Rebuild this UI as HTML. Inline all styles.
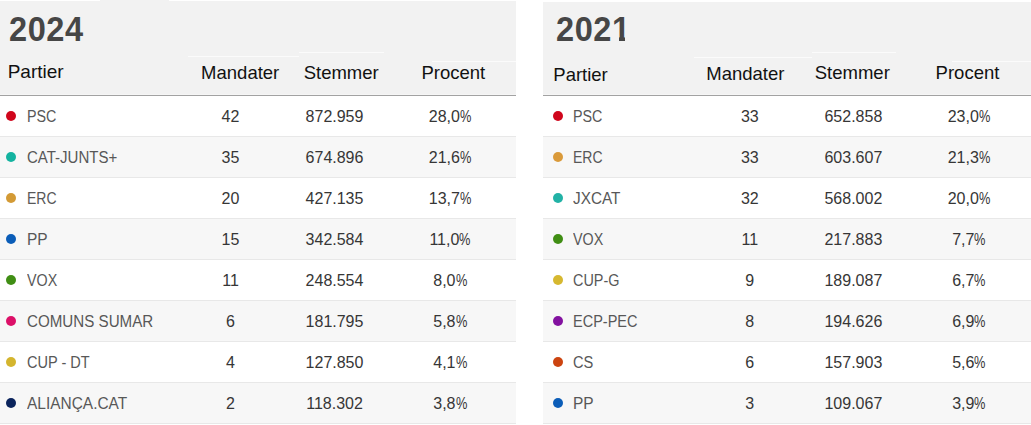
<!DOCTYPE html>
<html><head><meta charset="utf-8"><title>Valg 2024 / 2021</title>
<style>
html,body{margin:0;padding:0;background:#fff;}
body{width:1031px;height:425px;position:relative;overflow:hidden;font-family:"Liberation Sans",Arial,sans-serif;}
.hd{position:absolute;top:1px;height:94px;background:#f2f2f2;}
.hl{position:absolute;top:95px;height:1px;background:#a2a2a2;}
.row{position:absolute;height:40px;}
.sep{position:absolute;height:1px;background:#e8e8e8;}
.tit{position:absolute;font-size:35px;line-height:35px;font-weight:bold;color:#464646;letter-spacing:0.6px;transform:scaleX(.93);transform-origin:0 0;white-space:nowrap;}
.hdt{position:absolute;font-size:18.5px;line-height:18.5px;color:#111;white-space:nowrap;}
.td{position:absolute;font-size:16px;line-height:16px;color:#363636;white-space:nowrap;}
.nm{color:#585858;transform-origin:0 0;}
.c{text-align:center;}
.pc{display:inline-block;transform:scaleX(.8);transform-origin:0 0;margin-right:-2.8px;}
.seam{position:absolute;height:1px;background:#fbfbfb;}
.mask{position:absolute;top:37px;height:4px;width:7px;background:#f2f2f2;}
.dot{position:absolute;width:10px;height:10px;border-radius:50%;}
</style></head><body>
<div class="hd" style="left:0px;width:516px;top:1px;height:94px"></div>
<div class="hl" style="left:0px;width:516px"></div>
<div class="seam" style="left:0px;width:516px;top:94px;background:#f6f6f6"></div>
<div class="row" style="left:0px;width:516px;top:96px;background:#fff"></div>
<div class="sep" style="left:0px;width:516px;top:136px"></div>
<div class="row" style="left:0px;width:516px;top:137px;background:#f7f7f7"></div>
<div class="sep" style="left:0px;width:516px;top:177px"></div>
<div class="row" style="left:0px;width:516px;top:178px;background:#fff"></div>
<div class="sep" style="left:0px;width:516px;top:218px"></div>
<div class="row" style="left:0px;width:516px;top:219px;background:#f7f7f7"></div>
<div class="sep" style="left:0px;width:516px;top:259px"></div>
<div class="row" style="left:0px;width:516px;top:260px;background:#fff"></div>
<div class="sep" style="left:0px;width:516px;top:300px"></div>
<div class="row" style="left:0px;width:516px;top:301px;background:#f7f7f7"></div>
<div class="sep" style="left:0px;width:516px;top:341px"></div>
<div class="row" style="left:0px;width:516px;top:342px;background:#fff"></div>
<div class="sep" style="left:0px;width:516px;top:382px"></div>
<div class="row" style="left:0px;width:516px;top:383px;background:#f7f7f7"></div>
<div class="sep" style="left:0px;width:516px;top:423px"></div>
<div class="tit" style="left:8.6px;top:11.37px">2024</div>
<div class="hdt" style="left:7.65px;top:61.62px;font-size:19px;line-height:19px">Partier</div>
<div class="hdt c" style="left:180.2px;width:120px;top:64.04px">Mandater</div>
<div class="hdt c" style="left:281.2px;width:120px;top:64.04px">Stemmer</div>
<div class="hdt c" style="left:393.3px;width:120px;top:64.04px">Procent</div>
<div class="dot" style="left:6px;top:111px;background:#d0061c"></div>
<div class="td nm" style="left:26.5px;top:109.46px;transform:scaleX(0.895)">PSC</div>
<div class="td c" style="left:180.5px;width:100px;top:109.46px">42</div>
<div class="td c" style="left:284.5px;width:100px;top:109.46px">872.959</div>
<div class="td c" style="left:400.1px;width:100px;top:109.46px">28,0<span class="pc">%</span></div>
<div class="dot" style="left:6px;top:152px;background:#14b3a0"></div>
<div class="td nm" style="left:26.5px;top:150.46px;transform:scaleX(0.939)">CAT-JUNTS+</div>
<div class="td c" style="left:180.5px;width:100px;top:150.46px">35</div>
<div class="td c" style="left:284.5px;width:100px;top:150.46px">674.896</div>
<div class="td c" style="left:400.1px;width:100px;top:150.46px">21,6<span class="pc">%</span></div>
<div class="dot" style="left:6px;top:193px;background:#d39a35"></div>
<div class="td nm" style="left:26.5px;top:191.46px;transform:scaleX(0.875)">ERC</div>
<div class="td c" style="left:180.5px;width:100px;top:191.46px">20</div>
<div class="td c" style="left:284.5px;width:100px;top:191.46px">427.135</div>
<div class="td c" style="left:400.1px;width:100px;top:191.46px">13,7<span class="pc">%</span></div>
<div class="dot" style="left:6px;top:234px;background:#0b5db8"></div>
<div class="td nm" style="left:26.5px;top:232.46px;transform:scaleX(0.968)">PP</div>
<div class="td c" style="left:180.5px;width:100px;top:232.46px">15</div>
<div class="td c" style="left:284.5px;width:100px;top:232.46px">342.584</div>
<div class="td c" style="left:400.1px;width:100px;top:232.46px">11,0<span class="pc">%</span></div>
<div class="dot" style="left:6px;top:275px;background:#408e14"></div>
<div class="td nm" style="left:26.5px;top:273.46px;transform:scaleX(0.893)">VOX</div>
<div class="td c" style="left:180.5px;width:100px;top:273.46px">11</div>
<div class="td c" style="left:284.5px;width:100px;top:273.46px">248.554</div>
<div class="td c" style="left:400.1px;width:100px;top:273.46px">8,0<span class="pc">%</span></div>
<div class="dot" style="left:6px;top:316px;background:#dc1068"></div>
<div class="td nm" style="left:26.5px;top:314.46px;transform:scaleX(0.947)">COMUNS SUMAR</div>
<div class="td c" style="left:180.5px;width:100px;top:314.46px">6</div>
<div class="td c" style="left:284.5px;width:100px;top:314.46px">181.795</div>
<div class="td c" style="left:400.1px;width:100px;top:314.46px">5,8<span class="pc">%</span></div>
<div class="dot" style="left:6px;top:357px;background:#d4b52e"></div>
<div class="td nm" style="left:26.5px;top:355.46px;transform:scaleX(0.909)">CUP - DT</div>
<div class="td c" style="left:180.5px;width:100px;top:355.46px">4</div>
<div class="td c" style="left:284.5px;width:100px;top:355.46px">127.850</div>
<div class="td c" style="left:400.1px;width:100px;top:355.46px">4,1<span class="pc">%</span></div>
<div class="dot" style="left:6px;top:398px;background:#0b245c"></div>
<div class="td nm" style="left:26.5px;top:396.46px;transform:scaleX(0.966)">ALIANÇA.CAT</div>
<div class="td c" style="left:180.5px;width:100px;top:396.46px">2</div>
<div class="td c" style="left:284.5px;width:100px;top:396.46px">118.302</div>
<div class="td c" style="left:400.1px;width:100px;top:396.46px">3,8<span class="pc">%</span></div>
<div class="hd" style="left:543px;width:488px;top:2px;height:93px"></div>
<div class="hl" style="left:543px;width:488px"></div>
<div class="seam" style="left:543px;width:488px;top:94px;background:#f6f6f6"></div>
<div class="row" style="left:543px;width:488px;top:96px;background:#fff"></div>
<div class="sep" style="left:543px;width:488px;top:136px"></div>
<div class="row" style="left:543px;width:488px;top:137px;background:#f7f7f7"></div>
<div class="sep" style="left:543px;width:488px;top:177px"></div>
<div class="row" style="left:543px;width:488px;top:178px;background:#fff"></div>
<div class="sep" style="left:543px;width:488px;top:218px"></div>
<div class="row" style="left:543px;width:488px;top:219px;background:#f7f7f7"></div>
<div class="sep" style="left:543px;width:488px;top:259px"></div>
<div class="row" style="left:543px;width:488px;top:260px;background:#fff"></div>
<div class="sep" style="left:543px;width:488px;top:300px"></div>
<div class="row" style="left:543px;width:488px;top:301px;background:#f7f7f7"></div>
<div class="sep" style="left:543px;width:488px;top:341px"></div>
<div class="row" style="left:543px;width:488px;top:342px;background:#fff"></div>
<div class="sep" style="left:543px;width:488px;top:382px"></div>
<div class="row" style="left:543px;width:488px;top:383px;background:#f7f7f7"></div>
<div class="sep" style="left:543px;width:488px;top:423px"></div>
<div class="tit" style="left:556px;top:11.37px">2021</div>
<div class="hdt" style="left:553.3px;top:66.04px;font-size:18.5px;line-height:18.5px">Partier</div>
<div class="hdt c" style="left:685.3px;width:120px;top:65.04px">Mandater</div>
<div class="hdt c" style="left:792.3px;width:120px;top:64.04px">Stemmer</div>
<div class="hdt c" style="left:907.5px;width:120px;top:64.04px">Procent</div>
<div class="dot" style="left:552.9px;top:111px;background:#d0061c"></div>
<div class="td nm" style="left:573.3px;top:109.46px;transform:scaleX(0.895)">PSC</div>
<div class="td c" style="left:699.8px;width:100px;top:109.46px">33</div>
<div class="td c" style="left:803.4px;width:100px;top:109.46px">652.858</div>
<div class="td c" style="left:919px;width:100px;top:109.46px">23,0<span class="pc">%</span></div>
<div class="dot" style="left:552.9px;top:152px;background:#da9a3a"></div>
<div class="td nm" style="left:573.3px;top:150.46px;transform:scaleX(0.875)">ERC</div>
<div class="td c" style="left:699.8px;width:100px;top:150.46px">33</div>
<div class="td c" style="left:803.4px;width:100px;top:150.46px">603.607</div>
<div class="td c" style="left:919px;width:100px;top:150.46px">21,3<span class="pc">%</span></div>
<div class="dot" style="left:552.9px;top:193px;background:#22b2a6"></div>
<div class="td nm" style="left:573.3px;top:191.46px;transform:scaleX(0.958)">JXCAT</div>
<div class="td c" style="left:699.8px;width:100px;top:191.46px">32</div>
<div class="td c" style="left:803.4px;width:100px;top:191.46px">568.002</div>
<div class="td c" style="left:919px;width:100px;top:191.46px">20,0<span class="pc">%</span></div>
<div class="dot" style="left:552.9px;top:234px;background:#408e14"></div>
<div class="td nm" style="left:573.3px;top:232.46px;transform:scaleX(0.893)">VOX</div>
<div class="td c" style="left:699.8px;width:100px;top:232.46px">11</div>
<div class="td c" style="left:803.4px;width:100px;top:232.46px">217.883</div>
<div class="td c" style="left:919px;width:100px;top:232.46px">7,7<span class="pc">%</span></div>
<div class="dot" style="left:552.9px;top:275px;background:#d6b830"></div>
<div class="td nm" style="left:573.3px;top:273.46px;transform:scaleX(0.9)">CUP-G</div>
<div class="td c" style="left:699.8px;width:100px;top:273.46px">9</div>
<div class="td c" style="left:803.4px;width:100px;top:273.46px">189.087</div>
<div class="td c" style="left:919px;width:100px;top:273.46px">6,7<span class="pc">%</span></div>
<div class="dot" style="left:552.9px;top:316px;background:#8312a0"></div>
<div class="td nm" style="left:573.3px;top:314.46px;transform:scaleX(0.906)">ECP-PEC</div>
<div class="td c" style="left:699.8px;width:100px;top:314.46px">8</div>
<div class="td c" style="left:803.4px;width:100px;top:314.46px">194.626</div>
<div class="td c" style="left:919px;width:100px;top:314.46px">6,9<span class="pc">%</span></div>
<div class="dot" style="left:552.9px;top:357px;background:#cc4410"></div>
<div class="td nm" style="left:573.3px;top:355.46px;transform:scaleX(0.914)">CS</div>
<div class="td c" style="left:699.8px;width:100px;top:355.46px">6</div>
<div class="td c" style="left:803.4px;width:100px;top:355.46px">157.903</div>
<div class="td c" style="left:919px;width:100px;top:355.46px">5,6<span class="pc">%</span></div>
<div class="dot" style="left:552.9px;top:398px;background:#0b5db8"></div>
<div class="td nm" style="left:573.3px;top:396.46px;transform:scaleX(0.968)">PP</div>
<div class="td c" style="left:699.8px;width:100px;top:396.46px">3</div>
<div class="td c" style="left:803.4px;width:100px;top:396.46px">109.067</div>
<div class="td c" style="left:919px;width:100px;top:396.46px">3,9<span class="pc">%</span></div>
<div class="seam" style="left:100px;top:0;width:69px;background:#f2f2f2"></div>
<div class="mask" style="left:612px"></div><div class="mask" style="left:625px"></div>
<div class="seam" style="left:188px;top:56px;width:111px"></div>
<div class="seam" style="left:299px;top:52px;width:85px"></div>
<div class="seam" style="left:432px;top:61px;width:84px"></div>
<div class="seam" style="left:694px;top:57px;width:118px"></div>
<div class="seam" style="left:812px;top:52px;width:84px"></div>
<div class="seam" style="left:952px;top:61px;width:79px"></div>
</body></html>
